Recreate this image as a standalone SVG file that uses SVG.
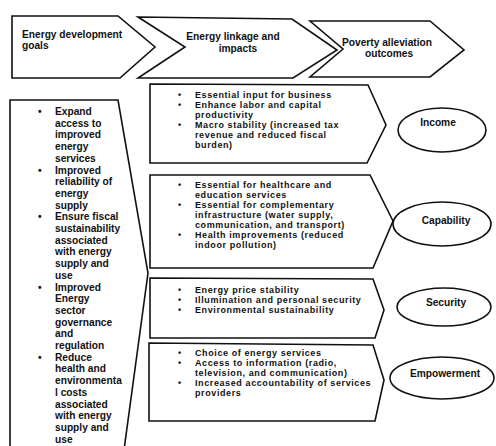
<svg xmlns="http://www.w3.org/2000/svg" width="496" height="446" viewBox="0 0 496 446">
<style>
.s{fill:#fff;stroke:#111;stroke-width:1.6;stroke-linejoin:miter}
text{font-family:"Liberation Sans",Arial,sans-serif;font-weight:bold;font-size:10.2px;fill:#111}
.b{font-size:9px;letter-spacing:0.6px}
.m{text-anchor:middle}
</style>
<rect width="496" height="446" fill="#fff"/>
<g id="header-goals">
<path class="s" d="M12,16 L118,16 L155,47 L120,78 L12,78 Z"/>
<text x="22" y="38">Energy development</text>
<text x="22" y="49">goals</text>
</g>
<g id="header-linkage">
<path class="s" d="M138,17 L292,19 L337,50 L293,78 L138,78 L185,47 Z"/>
<text class="m" x="233" y="40">Energy linkage and</text>
<text class="m" x="238" y="52">impacts</text>
</g>
<g id="header-outcomes">
<path class="s" d="M310,21 L430,21 L464,50 L430,77 L310,77 L343,49 Z"/>
<text class="m" x="387" y="46">Poverty alleviation</text>
<text class="m" x="389" y="57">outcomes</text>
</g>
<g id="goals">
<path class="s" d="M10,100 L118,100 L148,273 L124,450 L10,450 Z"/>
<text x="38" y="115">•</text><text x="55" y="115">Expand</text>
<text x="55" y="126.7">access to</text>
<text x="55" y="138.4">improved</text>
<text x="55" y="150.1">energy</text>
<text x="55" y="161.8">services</text>
<text x="38" y="173.5">•</text><text x="55" y="173.5">Improved</text>
<text x="55" y="185.2">reliability of</text>
<text x="55" y="196.9">energy</text>
<text x="55" y="208.6">supply</text>
<text x="38" y="220.3">•</text><text x="55" y="220.3">Ensure fiscal</text>
<text x="55" y="232">sustainability</text>
<text x="55" y="243.7">associated</text>
<text x="55" y="255.4">with energy</text>
<text x="55" y="267.1">supply and</text>
<text x="55" y="278.8">use</text>
<text x="38" y="290.5">•</text><text x="55" y="290.5">Improved</text>
<text x="55" y="302.2">Energy</text>
<text x="55" y="313.9">sector</text>
<text x="55" y="325.6">governance</text>
<text x="55" y="337.3">and</text>
<text x="55" y="349">regulation</text>
<text x="38" y="360.7">•</text><text x="55" y="360.7">Reduce</text>
<text x="55" y="372.4">health and</text>
<text x="55" y="384.1">environmenta</text>
<text x="55" y="395.8">l costs</text>
<text x="55" y="407.5">associated</text>
<text x="55" y="419.2">with energy</text>
<text x="55" y="430.9">supply and</text>
<text x="55" y="442.6">use</text>
</g>
<g id="impact-income">
<path class="s" d="M150,84 L368,85 L386,125 L367,163 L150,163 Z"/>
<text class="b" x="178" y="97.5">•</text><text class="b" x="195" y="97.5">Essential input for business</text>
<text class="b" x="178" y="107.5">•</text><text class="b" x="195" y="107.5">Enhance labor and capital</text>
<text class="b" x="195" y="117.5">productivity</text>
<text class="b" x="178" y="127.5">•</text><text class="b" x="195" y="127.5">Macro stability (increased tax</text>
<text class="b" x="195" y="137.5">revenue and reduced fiscal</text>
<text class="b" x="195" y="147.5">burden)</text>
</g>
<g id="impact-capability">
<path class="s" d="M150,175 L370,175 L393,221 L373,268 L150,268 Z"/>
<text class="b" x="178" y="187.5">•</text><text class="b" x="195" y="187.5">Essential for healthcare and</text>
<text class="b" x="195" y="197.5">education services</text>
<text class="b" x="178" y="207.5">•</text><text class="b" x="195" y="207.5">Essential for complementary</text>
<text class="b" x="195" y="217.5">infrastructure (water supply,</text>
<text class="b" x="195" y="227.5">communication, and transport)</text>
<text class="b" x="178" y="237.5">•</text><text class="b" x="195" y="237.5">Health improvements (reduced</text>
<text class="b" x="195" y="247.5">indoor pollution)</text>
</g>
<g id="impact-security">
<path class="s" d="M150,278 L373,279 L384,310 L375,338 L150,338 Z"/>
<text class="b" x="178" y="292.5">•</text><text class="b" x="195" y="292.5">Energy price stability</text>
<text class="b" x="178" y="302.5">•</text><text class="b" x="195" y="302.5">Illumination and personal security</text>
<text class="b" x="178" y="312.5">•</text><text class="b" x="195" y="312.5">Environmental sustainability</text>
</g>
<g id="impact-empowerment">
<path class="s" d="M149,343 L373,345 L384,380 L375,421 L149,421 Z"/>
<text class="b" x="178" y="356">•</text><text class="b" x="195" y="356">Choice of energy services</text>
<text class="b" x="178" y="366">•</text><text class="b" x="195" y="366">Access to information (radio,</text>
<text class="b" x="195" y="376">television, and communication)</text>
<text class="b" x="178" y="386">•</text><text class="b" x="195" y="386">Increased accountability of services</text>
<text class="b" x="195" y="396">providers</text>
</g>
<g id="outcome-income">
<ellipse class="s" cx="442" cy="130" rx="44" ry="22"/>
<text class="m" x="438" y="126">Income</text>
</g>
<g id="outcome-capability">
<ellipse class="s" cx="442" cy="224" rx="49" ry="22"/>
<text class="m" x="446" y="224">Capability</text>
</g>
<g id="outcome-security">
<ellipse class="s" cx="444" cy="307" rx="47" ry="19"/>
<text class="m" x="446" y="306">Security</text>
</g>
<g id="outcome-empowerment">
<ellipse class="s" cx="442" cy="378" rx="52" ry="21"/>
<text class="m" x="445" y="377">Empowerment</text>
</g>
<g id="connectors"></g>
</svg>
